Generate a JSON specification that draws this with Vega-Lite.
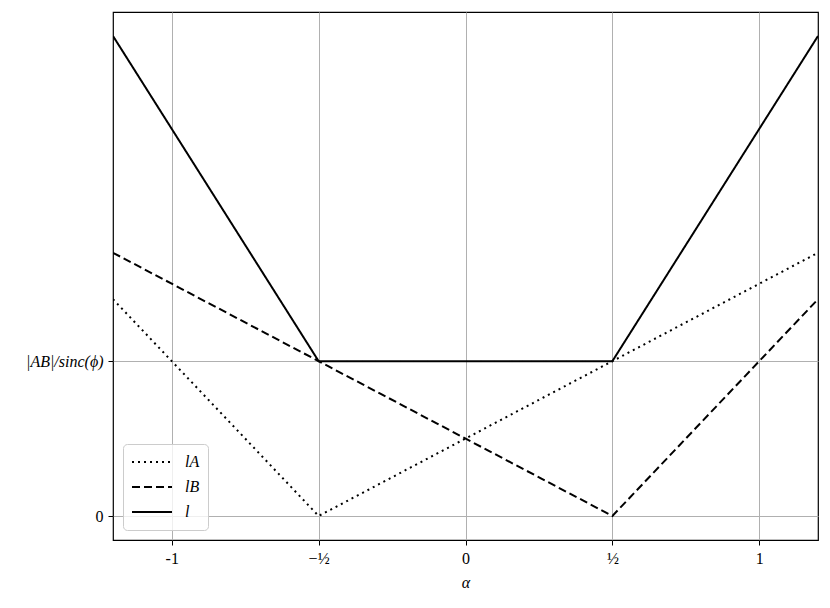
{
  "$schema": "https://vega.github.io/schema/vega-lite/v6.json",
  "width": 705,
  "height": 528,
  "autosize": {"type": "none"},
  "padding": {"left": 113, "top": 12, "right": 12, "bottom": 68},
  "background": "white",
  "config": {
    "font": "Liberation Serif",
    "view": {"stroke": "black", "strokeWidth": 1.2},
    "axis": {
      "grid": true,
      "gridColor": "#b0b0b0",
      "gridWidth": 1,
      "domain": false,
      "tickColor": "black",
      "tickSize": 5,
      "labelFontSize": 16,
      "labelColor": "black",
      "labelPadding": 5,
      "titleFontSize": 16,
      "titleFontWeight": "normal",
      "titleColor": "black"
    }
  },
  "data": {
    "values": [
      {"series": "lA", "alpha": -1.2, "value": 1.4},
      {"series": "lA", "alpha": -0.5, "value": 0},
      {"series": "lA", "alpha": 1.2, "value": 1.7},
      {"series": "lB", "alpha": -1.2, "value": 1.7},
      {"series": "lB", "alpha": 0.5, "value": 0},
      {"series": "lB", "alpha": 1.2, "value": 1.4},
      {"series": "l", "alpha": -1.2, "value": 3.1},
      {"series": "l", "alpha": -0.5, "value": 1},
      {"series": "l", "alpha": 0.5, "value": 1},
      {"series": "l", "alpha": 1.2, "value": 3.1}
    ]
  },
  "mark": {"type": "line", "color": "black", "strokeWidth": 2, "clip": true},
  "encoding": {
    "x": {
      "field": "alpha",
      "type": "quantitative",
      "scale": {"domain": [-1.2, 1.2], "nice": false, "zero": false},
      "axis": {
        "values": [-1, -0.5, 0, 0.5, 1],
        "labelExpr": "datum.value == -1 ? '-1' : datum.value == -0.5 ? '−½' : datum.value == 0.5 ? '½' : datum.value == 1 ? '1' : '0'",
        "title": "α",
        "titleFontStyle": "italic",
        "titlePadding": 8
      }
    },
    "y": {
      "field": "value",
      "type": "quantitative",
      "scale": {"domain": [-0.155, 3.255], "nice": false, "zero": false},
      "axis": {
        "values": [0, 1],
        "labelExpr": "datum.value == 0 ? '0' : '|AB|/sinc(ϕ)'",
        "labelFontStyle": {"condition": {"test": "datum.value == 1", "value": "italic"}, "value": "normal"},
        "title": null
      }
    },
    "strokeDash": {
      "field": "series",
      "type": "nominal",
      "scale": {"domain": ["lA", "lB", "l"], "range": [[2, 4], [8, 4], [1, 0]]},
      "legend": {
        "title": null,
        "orient": "bottom-left",
        "offset": 10,
        "fillColor": "rgba(255,255,255,0.8)",
        "strokeColor": "#cccccc",
        "cornerRadius": 4,
        "padding": 8,
        "symbolType": "stroke",
        "symbolSize": 1600,
        "symbolStrokeWidth": 2,
        "symbolStrokeColor": "black",
        "labelFontSize": 16,
        "labelFontStyle": "italic",
        "labelColor": "black",
        "clipHeight": 20,
        "rowPadding": 5,
        "labelOffset": 12
      }
    }
  }
}
